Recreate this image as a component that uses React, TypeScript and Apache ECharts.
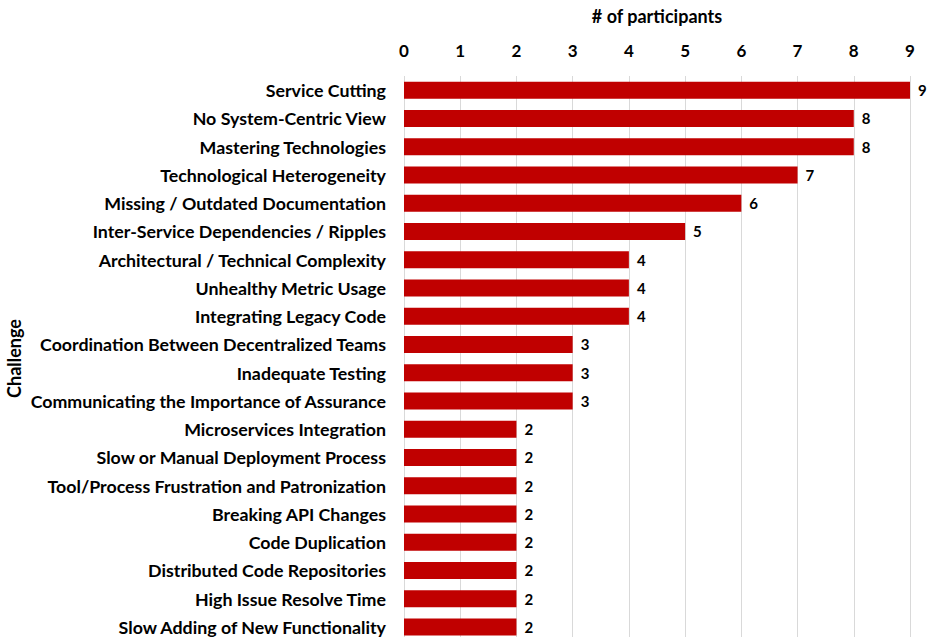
import React, { useEffect, useRef } from "react";
import * as echarts from "echarts";

const categories = [
  "Service Cutting",
  "No System-Centric View",
  "Mastering Technologies",
  "Technological Heterogeneity",
  "Missing / Outdated Documentation",
  "Inter-Service Dependencies / Ripples",
  "Architectural / Technical Complexity",
  "Unhealthy Metric Usage",
  "Integrating Legacy Code",
  "Coordination Between Decentralized Teams",
  "Inadequate Testing",
  "Communicating the Importance of Assurance",
  "Microservices Integration",
  "Slow or Manual Deployment Process",
  "Tool/Process Frustration and Patronization",
  "Breaking API Changes",
  "Code Duplication",
  "Distributed Code Repositories",
  "High Issue Resolve Time",
  "Slow Adding of New Functionality",
];
const participants = [9, 8, 8, 7, 6, 5, 4, 4, 4, 3, 3, 3, 2, 2, 2, 2, 2, 2, 2, 2];

const FONT = "Lato";

export default function App() {
  const ref = useRef<HTMLDivElement>(null);
  useEffect(() => {
    const chart = echarts.init(ref.current!, null, { renderer: "svg" });
    chart.setOption({
      animation: false,
      textStyle: { fontFamily: FONT },
      grid: {
        left: 404,
        right: 25,
        top: 76,
        height: 565,
        containLabel: false,
        outerBoundsMode: "none",
      },
      xAxis: {
        type: "value",
        position: "top",
        min: 0,
        max: 9,
        interval: 1,
        name: "# of participants",
        nameLocation: "middle",
        nameGap: 51,
        nameTextStyle: { fontFamily: FONT, fontWeight: "bold", fontSize: 18, color: "#000" },
        axisLine: { show: false },
        axisTick: { show: false },
        axisLabel: { fontFamily: FONT, fontWeight: "bold", fontSize: 17, color: "#000", margin: 17 },
        splitLine: { show: true, lineStyle: { color: "#D9D9D9", width: 1 } },
      },
      yAxis: {
        type: "category",
        data: categories,
        inverse: true,
        name: "Challenge",
        nameLocation: "middle",
        nameRotate: 90,
        nameGap: 381,
        nameMoveOverlap: false,
        nameTextStyle: { fontFamily: FONT, fontWeight: "bold", fontSize: 18, color: "#000" },
        axisLine: { show: false },
        axisTick: { show: false },
        axisLabel: { fontFamily: FONT, fontWeight: "bold", fontSize: 17.8, color: "#000", margin: 18 },
        splitLine: { show: false },
      },
      series: [
        {
          type: "bar",
          data: participants,
          barWidth: 17,
          itemStyle: { color: "#C00000" },
          label: {
            show: true,
            position: "right",
            distance: 8,
            fontFamily: FONT,
            fontWeight: "bold",
            fontSize: 15,
            color: "#000",
          },
        },
      ],
    });
    return () => chart.dispose();
  }, []);
  return (
    <div
      ref={ref}
      style={{ position: "fixed", left: 0, top: 0, width: 935, height: 637, background: "#fff" }}
    />
  );
}
